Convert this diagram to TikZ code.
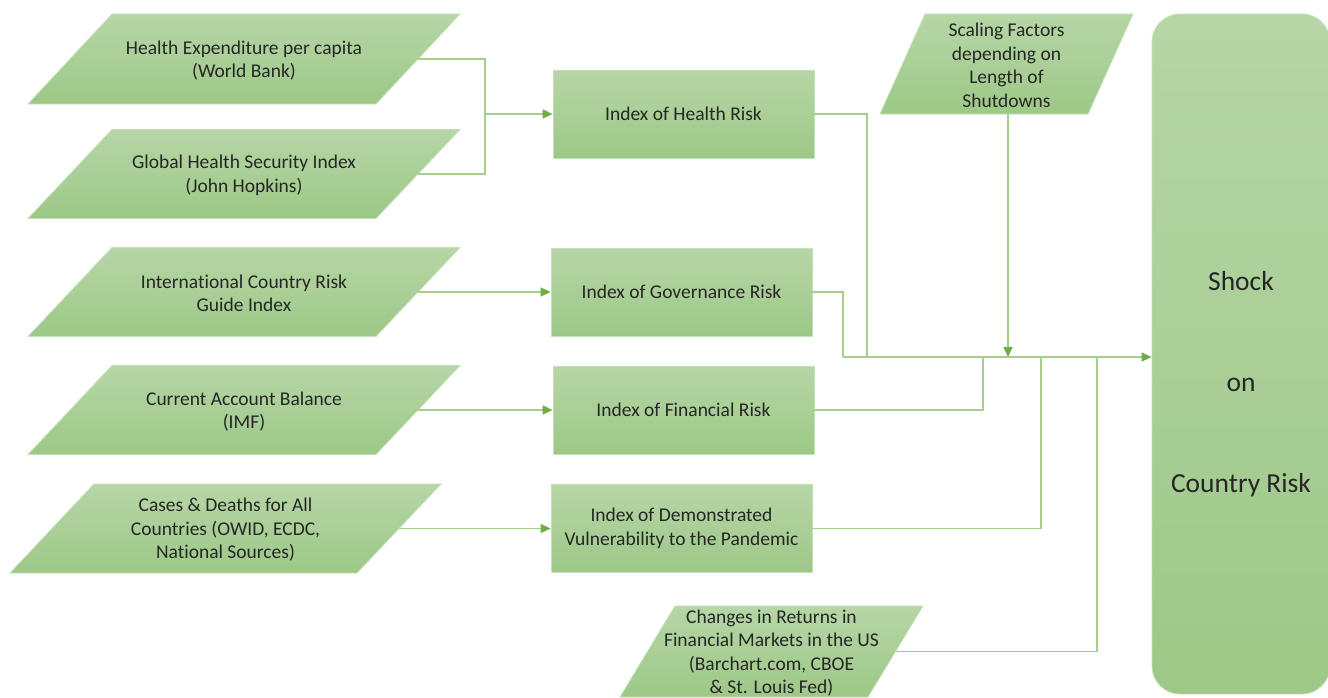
\documentclass[tikz,border=0pt]{standalone}
\usepackage{fontspec}
\setmainfont{Carlito}[Ligatures=NoCommon]
\usetikzlibrary{arrows.meta,calc}
\definecolor{gtop}{RGB}{182,214,166}
\definecolor{gbot}{RGB}{157,200,135}
\definecolor{gedge}{RGB}{196,224,184}
\definecolor{lineg}{RGB}{165,207,138}
\definecolor{arrowg}{RGB}{112,173,71}
\definecolor{txt}{RGB}{38,38,38}
% #1 name, #2 cx, #3 cy, #4 total width, #5 height, #6 slant offset, #7 text
\newcommand\mypara[7]{%
  \path[shapefill] ({#2-#4/2},{#3+#5/2}) -- ({#2+#4/2-#6},{#3+#5/2})
     -- ({#2+#4/2},{#3-#5/2}) -- ({#2-#4/2+#6},{#3-#5/2}) -- cycle;
  \node[lbl] (#1) at (#2,#3) {#7};
  \coordinate (#1-e) at ({#2+#4/2-#6/2},#3);
  \coordinate (#1-s) at (#2,{#3+#5/2});
}
\begin{document}
\begin{tikzpicture}[x=1pt,y=-1pt,
  shapefill/.style={top color=gtop, bottom color=gbot, draw=gedge, line width=0.8pt},
  lbl/.style={text=txt, align=center, inner sep=0pt, yshift=-1.5pt, font=\fontsize{19.5}{23.5}\selectfont},
  idx/.style={shapefill, lbl, rectangle, minimum width=261pt, minimum height=88pt},
  conn/.style={draw=lineg, line width=1.6pt},
  arr/.style={conn, -{Triangle[length=10pt,width=9pt,color=arrowg]}}]
\useasboundingbox (0,0) rectangle (1328,697);

% sources
\mypara{p1}{244}{59}{432}{90}{84}{Health Expenditure per capita\\(World Bank)}
\mypara{p2}{244}{174}{432}{89}{84}{Global Health Security Index\\(John Hopkins)}
\mypara{p3}{244}{292}{432}{89}{84}{International Country Risk\\Guide Index}
\mypara{p4}{244}{410}{432}{89}{84}{Current Account Balance\\(IMF)}
\mypara{p5}{225.5}{528.5}{431}{89}{84}{Cases \& Deaths for All\\Countries (OWID, ECDC,\\National Sources)}
\mypara{scal}{1006.5}{64}{253}{100}{45}{Scaling Factors\\depending on\\Length of\\Shutdowns}
\mypara{chg}{771.5}{651.5}{303}{91}{55}{Changes in Returns in\\Financial Markets in the US\\(Barchart.com, CBOE\\\& St. Louis Fed)}

% indices
\node[idx, yshift=1.5pt] (hr) at (683.5,114) {Index of Health Risk};
\node[idx, yshift=1.5pt] (gr) at (681.5,292) {Index of Governance Risk};
\node[idx, yshift=1.5pt] (fr) at (683.5,410) {Index of Financial Risk};
\node[idx, yshift=1.5pt] (dv) at (681.5,528.5) {Index of Demonstrated\\Vulnerability to the Pandemic};

% result
\node[shapefill, rectangle, rounded corners=28pt, minimum width=178pt, minimum height=680pt] (shock) at (1241,354) {};
\node[lbl, font=\fontsize{27.5}{101}\selectfont] (shocktxt) at (1241,383) {Shock\\on\\Country Risk};

% connectors
\coordinate (j1) at (485,114);
\draw[conn] (p1-e) -| (j1);
\draw[conn] (p2-e) -| (j1);
\draw[arr] (j1) -- (hr.west);
\draw[arr] (p3-e) -- (gr.west);
\draw[arr] (p4-e) -- (fr.west);
\draw[arr] (p5-e) -- (dv.west);

\coordinate (m0) at (843,357);
\coordinate (mh) at (867,357);
\coordinate (ms) at (1008,357);
\coordinate (mf) at (983,357);
\coordinate (mv) at (1041,357);
\coordinate (mc) at (1097,357);
\draw[conn] (gr.east) -| (m0);
\draw[conn] (hr.east) -| (mh);
\draw[conn] (fr.east) -| (mf);
\draw[conn] (dv.east) -| (mv);
\draw[conn] (chg-e) -| (mc);
\draw[arr] (m0) -- (m0 -| shock.west);
\draw[arr] (scal-s -| ms) -- (ms);
\end{tikzpicture}
\end{document}
